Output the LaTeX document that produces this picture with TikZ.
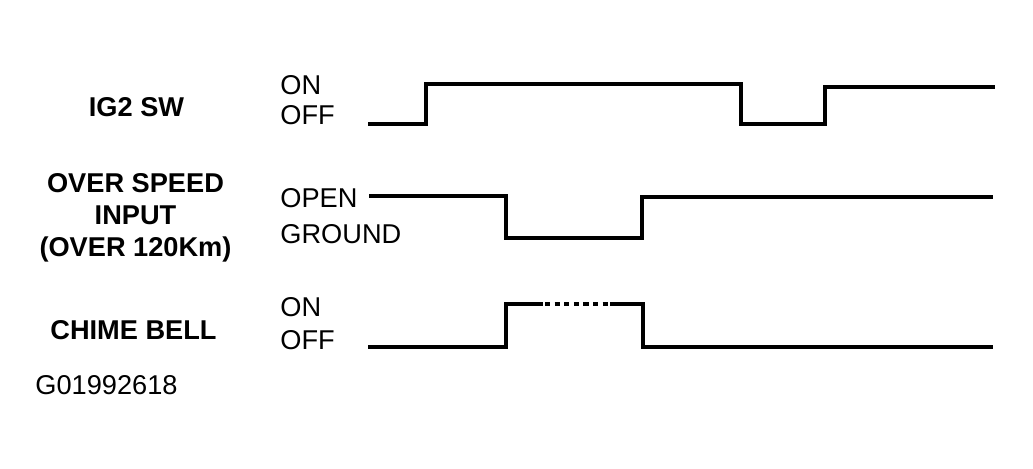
\documentclass[tikz,border=0pt]{standalone}
\usepackage{fontspec}
\setmainfont{Liberation Sans}
\begin{document}
\begin{tikzpicture}[x=0.5pt,y=-0.5pt,
  lbl/.style={inner sep=0pt,anchor=base,font=\fontsize{13.6}{16}\selectfont\bfseries},
  lvl/.style={inner sep=0pt,anchor=base west,font=\fontsize{13.6}{16}\selectfont},
  wave/.style={line width=1.6pt,line join=miter,line cap=butt},
  dotseg/.style={line width=1.6pt,dash pattern=on 2.6pt off 2.2pt}]
\useasboundingbox (0,0) rectangle (1033,469);
% left labels
\node[lbl] (ig) at (136.5,117) {IG2 SW};
\node[lbl] (os1) at (135.5,193) {OVER SPEED};
\node[lbl] (os2) at (135.5,225) {INPUT};
\node[lbl] (os3) at (135.5,257) {(OVER 120Km)};
\node[lbl] (cb) at (133.5,340) {CHIME BELL};
\node[lvl] (code) at (35,395) {G01992618};
% level labels
\node[lvl] (igon) at (280,95) {ON};
\node[lvl] (igoff) at (280,125) {OFF};
\node[lvl] (osopen) at (280,208) {OPEN};
\node[lvl] (osgnd) at (280,244) {GROUND};
\node[lvl] (cbon) at (280,317) {ON};
\node[lvl] (cboff) at (280,350) {OFF};
% IG2 SW waveform
\draw[wave] (368,124) -- (426,124) -- (426,84) -- (741,84) -- (741,124)
  -- (825,124) -- (825,87) -- (995,87);
% Over speed waveform
\draw[wave] (369,196) -- (506,196) -- (506,238) -- (642,238) -- (642,197) -- (993,197);
% Chime bell waveform
\draw[wave] (368,347) -- (506,347) -- (506,304) -- (543,304);
\draw[dotseg] (545,304) -- (610,304);
\draw[wave] (610,304) -- (643,304) -- (643,347) -- (993,347);
\end{tikzpicture}
\end{document}
